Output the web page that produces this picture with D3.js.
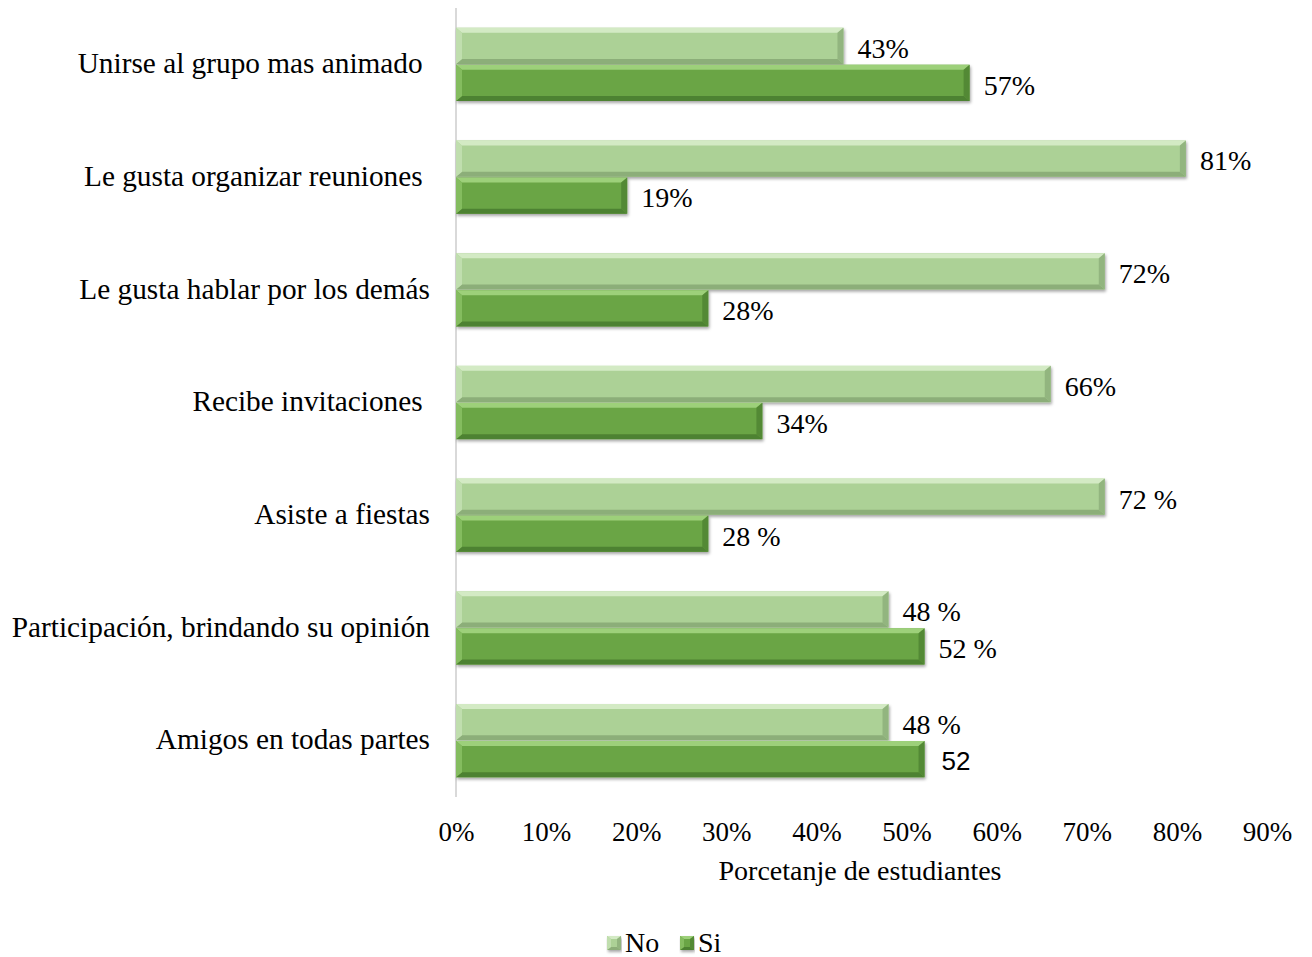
<!DOCTYPE html>
<html>
<head>
<meta charset="utf-8">
<script src="https://cdn.jsdelivr.net/npm/d3@7"></script>
<style>
  body { margin: 0; background: #fff; }
  text { font-family: "Liberation Serif", "Times New Roman", serif; fill: #000; white-space: pre; }
</style>
</head>
<body>
<div id="chart-area"></div>
<script>
// DATA -----------------------------------------------------------------------
const categories = [
  "Unirse al grupo mas animado ",
  "Le gusta organizar reuniones ",
  "Le gusta hablar por los demás",
  "Recibe invitaciones ",
  "Asiste a fiestas",
  "Participación, brindando su opinión",
  "Amigos en todas partes"
]
const seriesNames = ["No", "Si"]
const noValues = [43, 81, 72, 66, 72, 48, 48]
const siValues = [57, 19, 28, 34, 28, 52, 52]
const noLabels = ["43%", "81%", "72%", "66%", "72 %", "48 %", "48 %"]
const siLabels = ["57%", "19%", "28%", "34%", "28 %", "52 %", "52"]
const xTicks = [0, 10, 20, 30, 40, 50, 60, 70, 80, 90]

// SVG ------------------------------------------------------------------------
const W = 1312, H = 957
const svg = d3.select("#chart-area").append("svg")
  .attr("width", W).attr("height", H)

const defs = svg.append("defs")
const f = defs.append("filter").attr("id", "shadow")
  .attr("x", "-5%").attr("y", "-20%").attr("width", "110%").attr("height", "150%")
f.append("feDropShadow").attr("dx", 1).attr("dy", 2).attr("stdDeviation", 1.6)
  .attr("flood-color", "#000").attr("flood-opacity", 0.35)

const colors = {
  No: { base: "#acd196", light: "#d3eac4", dark: "#8cae79", side: "#c0deae" },
  Si: { base: "#6aa544", light: "#9dd07a", dark: "#4e8231", side: "#84bc5f" }
}

// SCALES ---------------------------------------------------------------------
const xScale = d3.scaleLinear().domain([0, 90]).range([456, 1267])
const yScale = d3.scaleBand().domain(categories).range([8, 797]).paddingInner(0.35).paddingOuter(0.175)
const ySub = d3.scaleBand().domain(seriesNames).range([0, yScale.bandwidth()]).paddingInner(0.02)

// AXIS LINE
svg.append("line")
  .attr("x1", xScale(0)).attr("x2", xScale(0))
  .attr("y1", 8).attr("y2", 797)
  .attr("stroke", "#d9d9d9").attr("stroke-width", 2)

// bevelled bar
function bevelBar(g, x0, y0, w, h, c, e) {
  const b = Math.min(e + 1, w / 2)
  const bar = g.append("g").attr("filter", "url(#shadow)")
  bar.append("rect").attr("x", x0).attr("y", y0).attr("width", w).attr("height", h).attr("fill", c.base)
  // top
  bar.append("polygon")
    .attr("points", [[x0, y0], [x0 + w, y0], [x0 + w - b, y0 + e], [x0 + b, y0 + e]].join(" "))
    .attr("fill", c.light)
  // bottom
  bar.append("polygon")
    .attr("points", [[x0, y0 + h], [x0 + w, y0 + h], [x0 + w - b, y0 + h - e], [x0 + b, y0 + h - e]].join(" "))
    .attr("fill", c.dark)
  // left
  bar.append("polygon")
    .attr("points", [[x0, y0], [x0 + b, y0 + e], [x0 + b, y0 + h - e], [x0, y0 + h]].join(" "))
    .attr("fill", c.side)
  // right
  bar.append("polygon")
    .attr("points", [[x0 + w, y0], [x0 + w - b, y0 + e], [x0 + w - b, y0 + h - e], [x0 + w, y0 + h]].join(" "))
    .attr("fill", c.dark).attr("opacity", 0.8)
}

// BARS -----------------------------------------------------------------------
const rows = categories.map((c, i) => ({
  cat: c,
  bars: [
    { s: "No", v: noValues[i], label: noLabels[i] },
    { s: "Si", v: siValues[i], label: siLabels[i] }
  ]
}))

const gRows = svg.selectAll("g.row").data(rows).enter().append("g")
  .attr("class", "row")
  .attr("transform", d => `translate(0, ${yScale(d.cat)})`)

gRows.each(function (d) {
  const g = d3.select(this)
  d.bars.forEach(b => {
    bevelBar(g, xScale(0), ySub(b.s), xScale(b.v) - xScale(0), ySub.bandwidth(), colors[b.s], 5)
    const sans = b.label.indexOf("%") < 0
    g.append("text")
      .attr("x", xScale(b.v) + (sans ? 17 : 14))
      .attr("y", ySub(b.s) + ySub.bandwidth() / 2 + 2)
      .attr("dy", "0.35em")
      .style("font-size", sans ? "26px" : "28px")
      .style("font-family", sans ? "'Liberation Sans', Arial, sans-serif" : null)
      .text(b.label)
  })
  g.append("text")
    .attr("x", 430)
    .attr("y", yScale.bandwidth() / 2)
    .attr("dy", "0.3em")
    .attr("text-anchor", "end")
    .style("font-size", "29.3px")
    .text(d.cat)
})

// X AXIS ---------------------------------------------------------------------
const xAxis = d3.axisBottom(xScale).tickValues(xTicks).tickFormat(d => d + "%").tickSize(0).tickPadding(0)
const gAxisX = svg.append("g").attr("transform", "translate(0, 822)").call(xAxis)
gAxisX.select(".domain").remove()
gAxisX.selectAll("text").style("font-size", "27px")
  .style("font-family", "'Liberation Serif', 'Times New Roman', serif")

svg.append("text")
  .attr("x", 860).attr("y", 880)
  .attr("text-anchor", "middle").style("font-size", "28px")
  .text("Porcetanje de estudiantes")

// LEGEND ---------------------------------------------------------------------
const legend = svg.append("g").attr("transform", "translate(607, 936)")
const legX = [0, 73]
seriesNames.forEach((s, i) => {
  const g = legend.append("g").attr("transform", `translate(${legX[i]}, 0)`)
  bevelBar(g, 0, 0, 14, 14, colors[s], 3)
  g.append("text").attr("x", 18).attr("y", 16)
    .style("font-size", "28px").text(s)
})
</script>
</body>
</html>
